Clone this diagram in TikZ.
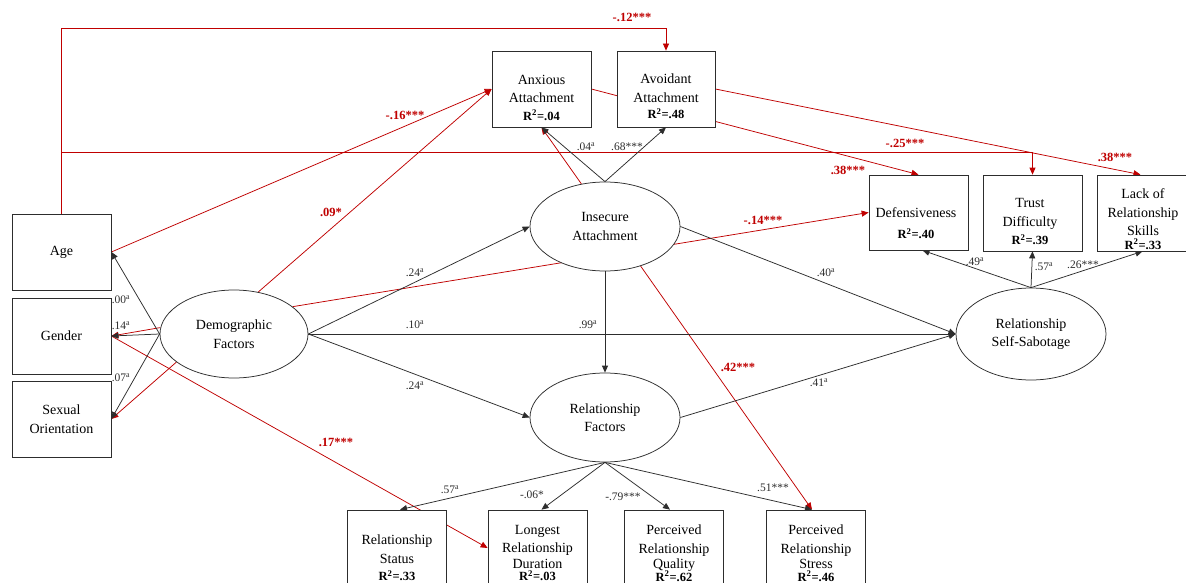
\documentclass[tikz,border=0pt]{standalone}
\usepackage{fontspec}
\setmainfont{Liberation Serif}
\usetikzlibrary{shapes.geometric,arrows.meta,calc}
\definecolor{rd}{RGB}{192,0,0}
\definecolor{ln}{RGB}{45,45,45}
\pgfdeclarelayer{bg}
\pgfsetlayers{bg,main}
\newcommand\dgbody{\fontsize{14}{18.5}\selectfont}
\newcommand\dglab{\fontsize{11.5}{13}\selectfont}
\newcommand\dgrlab{\fontsize{12.5}{14}\selectfont\bfseries}
\newcommand\dgR[1]{{\fontsize{12.5}{13}\selectfont\bfseries R\textsuperscript{2}=#1}}
\begin{document}
\begin{tikzpicture}[x=1pt,y=-1pt,
 box/.style={draw=ln,line width=0.75pt,fill=white,minimum width=99pt,minimum height=76pt,inner sep=0pt,align=center,font=\dgbody},
 oval/.style={ellipse,draw=ln,line width=0.75pt,fill=white,inner sep=0pt,align=center,font=\dgbody},
 txt/.style={align=center,font=\dgbody,inner sep=0pt},
 blk/.style={draw=ln,line width=0.75pt,-{Triangle[length=7pt,width=6pt]}},
 rda/.style={draw=rd,line width=0.75pt,-{Triangle[length=7pt,width=6pt]}},
 lab/.style={font=\dglab,inner sep=0pt,text=ln},
 rlab/.style={font=\dgrlab,inner sep=0pt,text=rd},
]
\useasboundingbox (0,0) rectangle (1186,583);

% boxes
\node[box] (age) at (61.5,252) {Age};
\node[box] (gender) at (61.5,336) {Gender};
\node[box] (sex) at (61.5,419) {Sexual\\Orientation};
\node[box] (anx) at (541.5,89) {};
\node[box,minimum width=98pt] (avo) at (666,89) {};
\node[box,minimum height=75pt] (def) at (918.5,212.5) {};
\node[box] (trust) at (1032.5,213) {};
\node[box] (lack) at (1146.5,213) {};
\node[box] (status) at (397,548) {};
\node[box] (longest) at (537.5,548) {};
\node[box] (quality) at (674,548) {};
\node[box] (stress) at (816,548) {};

\node[txt] at (541.5,97.5) {Anxious\\Attachment\\[-1pt]\dgR{.04}};
\node[txt] at (666,96.5) {Avoidant\\Attachment\\[-2pt]\dgR{.48}};
\node[txt] at (916,223) {Defensiveness\\[3pt]\dgR{.40}};
\node[txt] at (1030,222) {Trust\\Difficulty\\\dgR{.39}};
\node[txt] at (1143,219) {Lack of\\Relationship\\Skills\\[-5pt]\dgR{.33}};
\node[txt] at (397,558) {Relationship\\Status\\[-1pt]\dgR{.33}};
\node[txt] at (537.5,553) {Longest\\Relationship\\[-3pt]Duration\\[-6pt]\dgR{.03}};
\node[txt] at (674,553) {Perceived\\Relationship\\[-3pt]Quality\\[-6pt]\dgR{.62}};
\node[txt] at (816,553) {Perceived\\Relationship\\[-3pt]Stress\\[-6pt]\dgR{.46}};

% ellipses
\node[oval,minimum width=148pt,minimum height=88pt] (demo) at (234,334) {Demographic\\Factors};
\node[oval,minimum width=150pt,minimum height=89pt] (insec) at (605,226.5) {Insecure\\Attachment};
\node[oval,minimum width=150pt,minimum height=89pt] (relf) at (605,417.5) {Relationship\\Factors};
\node[oval,minimum width=150pt,minimum height=92pt] (ss) at (1031,334) {Relationship\\Self-Sabotage};

\begin{pgfonlayer}{bg}
\fill[white] (0,0) rectangle (1186,583);
% red paths
\draw[rda] (age.north) |- ([yshift=22pt]avo.north) -- (avo.north);
\draw[rda] (age.north) |- ([yshift=22pt]trust.north) -- (trust.north);
\draw[rda] (demo.175) -- (gender.east);
\draw[rda] (demo.206) -- (sex.east);
\draw[rda] (gender.east) -- (longest.west);
\draw[rda] (age.east) -- (anx.west);
\draw[rda] (demo.60) -- (anx.west);
\draw[rda] (demo.25) -- (def.west);
\draw[rda] (insec.-48) -- ([xshift=-4pt]stress.north);
\draw[rda] (insec.119) -- (anx.south);
\draw[rda] (anx.east) -- (def.north);
\draw[rda] (avo.east) -- ([xshift=-6pt]lack.north);
% black paths
\draw[blk] (demo.west) -- (age.east);
\draw[blk] (demo.west) -- (gender.east);
\draw[blk] (demo.west) -- (sex.east);
\draw[blk] (insec.north) -- (anx.south);
\draw[blk] (insec.north) -- (avo.south);
\draw[blk] (demo.east) -- (insec.west);
\draw[blk] (demo.east) -- (ss.west);
\draw[blk] (demo.east) -- (relf.west);
\draw[blk] (insec.south) -- (relf.north);
\draw[blk] (insec.east) -- (ss.west);
\draw[blk] (relf.east) -- (ss.west);
\draw[blk] (ss.north) -- ([xshift=4pt]def.south);
\draw[blk] (ss.north) -- (trust.south);
\draw[blk] (ss.north) -- ([xshift=-4pt]lack.south);
\draw[blk] (relf.south) -- ([xshift=3pt]status.north);
\draw[blk] (relf.south) -- ([xshift=4pt]longest.north);
\draw[blk] (relf.south) -- ([xshift=-4pt]quality.north);
\draw[blk] (relf.south) -- ([xshift=-4pt]stress.north);
\end{pgfonlayer}

% black labels
\node[lab] at (121,300) {.00\textsuperscript{a}};
\node[lab] at (121,326) {.14\textsuperscript{a}};
\node[lab] at (121,378) {.07\textsuperscript{a}};
\node[lab] at (415,273) {.24\textsuperscript{a}};
\node[lab] at (415,325) {.10\textsuperscript{a}};
\node[lab] at (415,386) {.24\textsuperscript{a}};
\node[lab] at (588,325) {.99\textsuperscript{a}};
\node[lab] at (586,147) {.04\textsuperscript{a}};
\node[lab] at (627,147) {.68***};
\node[lab] at (826,273) {.40\textsuperscript{a}};
\node[lab] at (819,383) {.41\textsuperscript{a}};
\node[lab] at (975,262) {.49\textsuperscript{a}};
\node[lab] at (1044,267) {.57\textsuperscript{a}};
\node[lab] at (1083,265) {.26***};
\node[lab] at (450,490) {.57\textsuperscript{a}};
\node[lab] at (532,495) {-.06*};
\node[lab] at (623,497) {-.79***};
\node[lab] at (773,488) {.51***};
% red labels
\node[rlab] at (632,17) {-.12***};
\node[rlab] at (405,115) {-.16***};
\node[rlab] at (331,212) {.09*};
\node[rlab] at (905,143) {-.25***};
\node[rlab] at (848,170) {.38***};
\node[rlab] at (1115,157) {.38***};
\node[rlab] at (763,220) {-.14***};
\node[rlab] at (738,367) {.42***};
\node[rlab] at (336,442) {.17***};
\end{tikzpicture}
\end{document}
